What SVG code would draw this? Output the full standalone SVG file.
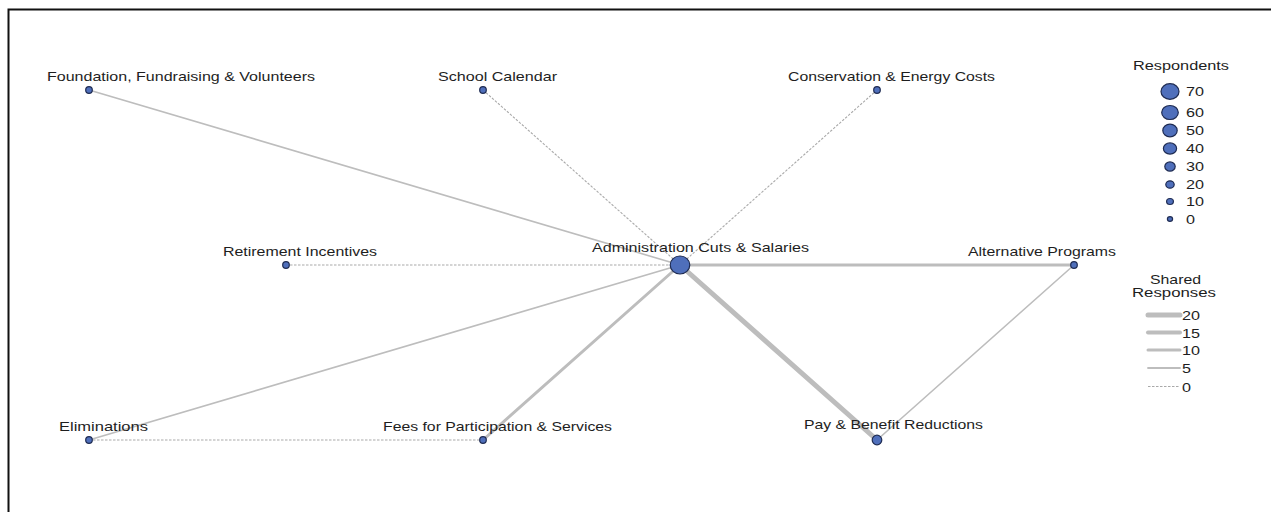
<svg xmlns="http://www.w3.org/2000/svg" width="1271" height="512" viewBox="0 0 1271 512">
<style>
text{font-family:"Liberation Sans",Arial,sans-serif;font-size:13px;fill:#1e1e1e}
.n{fill:#4f6fbb;stroke:#1e2b52;stroke-width:1.2}
.e{stroke:#bdbdbd;fill:none;stroke-linecap:round}
.d{stroke:#a9a9a9;stroke-width:1.1;stroke-dasharray:2.5,1.5;fill:none}
</style>
<rect x="0" y="0" width="1271" height="512" fill="#fff"/>
<path d="M8.5 512V9.5H1271" fill="none" stroke="#111" stroke-width="2"/>
<g id="connectors">
<line class="e" x1="89" y1="90" x2="680" y2="265" stroke-width="1.6"/>
<line class="d" x1="483" y1="90" x2="680" y2="265"/>
<line class="d" x1="877" y1="90" x2="680" y2="265"/>
<line class="d" x1="286" y1="265" x2="680" y2="265"/>
<line class="e" x1="680" y1="265" x2="1074" y2="265" stroke-width="3"/>
<line class="e" x1="89" y1="440" x2="680" y2="265" stroke-width="1.6"/>
<line class="e" x1="483" y1="440" x2="680" y2="265" stroke-width="3"/>
<line class="e" x1="877" y1="440" x2="680" y2="265" stroke-width="5"/>
<line class="e" x1="1074" y1="265" x2="877" y2="440" stroke-width="1.6"/>
<line class="d" x1="89" y1="440" x2="483" y2="440"/>
</g>
<g id="n-foundation"><circle class="n" cx="89" cy="90" r="3.3"/><text x="47" y="81" textLength="268" lengthAdjust="spacingAndGlyphs">Foundation, Fundraising &amp; Volunteers</text></g>
<g id="n-calendar"><circle class="n" cx="483" cy="90" r="3.3"/><text x="438" y="81" textLength="119" lengthAdjust="spacingAndGlyphs">School Calendar</text></g>
<g id="n-conservation"><circle class="n" cx="877" cy="90" r="3.3"/><text x="788" y="81" textLength="207" lengthAdjust="spacingAndGlyphs">Conservation &amp; Energy Costs</text></g>
<g id="n-retirement"><circle class="n" cx="286" cy="265" r="3.3"/><text x="223" y="256" textLength="154" lengthAdjust="spacingAndGlyphs">Retirement Incentives</text></g>
<g id="n-admin"><ellipse class="n" cx="680" cy="265" rx="9.8" ry="9"/><text x="592" y="252" textLength="217" lengthAdjust="spacingAndGlyphs">Administration Cuts &amp; Salaries</text></g>
<g id="n-alternative"><circle class="n" cx="1074" cy="265" r="3.3"/><text x="968" y="256" textLength="148" lengthAdjust="spacingAndGlyphs">Alternative Programs</text></g>
<g id="n-eliminations"><circle class="n" cx="89" cy="440" r="3.3"/><text x="59" y="431" textLength="89" lengthAdjust="spacingAndGlyphs">Eliminations</text></g>
<g id="n-fees"><circle class="n" cx="483" cy="440" r="3.3"/><text x="383" y="431" textLength="229" lengthAdjust="spacingAndGlyphs">Fees for Participation &amp; Services</text></g>
<g id="n-pay"><circle class="n" cx="877" cy="440" r="4.8"/><text x="804" y="429" textLength="179" lengthAdjust="spacingAndGlyphs">Pay &amp; Benefit Reductions</text></g>
<g id="legend-respondents">
<text x="1133" y="70" textLength="96" lengthAdjust="spacingAndGlyphs">Respondents</text>
<ellipse class="n" cx="1170" cy="91.5" rx="9" ry="7.8"/><text x="1186" y="96" textLength="18" lengthAdjust="spacingAndGlyphs">70</text>
<ellipse class="n" cx="1170" cy="112.5" rx="8.3" ry="7"/><text x="1186" y="117" textLength="18" lengthAdjust="spacingAndGlyphs">60</text>
<ellipse class="n" cx="1170" cy="130.5" rx="7.2" ry="6.3"/><text x="1186" y="135" textLength="18" lengthAdjust="spacingAndGlyphs">50</text>
<ellipse class="n" cx="1170" cy="148.5" rx="6.6" ry="5.6"/><text x="1186" y="153" textLength="18" lengthAdjust="spacingAndGlyphs">40</text>
<ellipse class="n" cx="1170" cy="166.5" rx="5.2" ry="4.6"/><text x="1186" y="171" textLength="18" lengthAdjust="spacingAndGlyphs">30</text>
<ellipse class="n" cx="1170" cy="184.5" rx="4.2" ry="3.7"/><text x="1186" y="189" textLength="18" lengthAdjust="spacingAndGlyphs">20</text>
<ellipse class="n" cx="1170" cy="201.5" rx="3.4" ry="3"/><text x="1186" y="206" textLength="18" lengthAdjust="spacingAndGlyphs">10</text>
<ellipse class="n" cx="1170" cy="219" rx="2.6" ry="2.3"/><text x="1186" y="223.5" textLength="9" lengthAdjust="spacingAndGlyphs">0</text>
</g>
<g id="legend-shared">
<text x="1150" y="284" textLength="51" lengthAdjust="spacingAndGlyphs">Shared</text>
<text x="1132" y="297" textLength="84" lengthAdjust="spacingAndGlyphs">Responses</text>
<line class="e" x1="1148" y1="315" x2="1180" y2="315" stroke-width="5"/><text x="1182" y="320" textLength="18" lengthAdjust="spacingAndGlyphs">20</text>
<line class="e" x1="1148" y1="332.5" x2="1180" y2="332.5" stroke-width="4"/><text x="1182" y="337.5" textLength="18" lengthAdjust="spacingAndGlyphs">15</text>
<line class="e" x1="1148" y1="350" x2="1180" y2="350" stroke-width="3"/><text x="1182" y="355" textLength="18" lengthAdjust="spacingAndGlyphs">10</text>
<line class="e" x1="1148" y1="368" x2="1180" y2="368" stroke-width="1.8"/><text x="1182" y="373" textLength="9" lengthAdjust="spacingAndGlyphs">5</text>
<line class="d" x1="1148" y1="386.5" x2="1180" y2="386.5"/><text x="1182" y="391.5" textLength="9" lengthAdjust="spacingAndGlyphs">0</text>
</g>
</svg>
